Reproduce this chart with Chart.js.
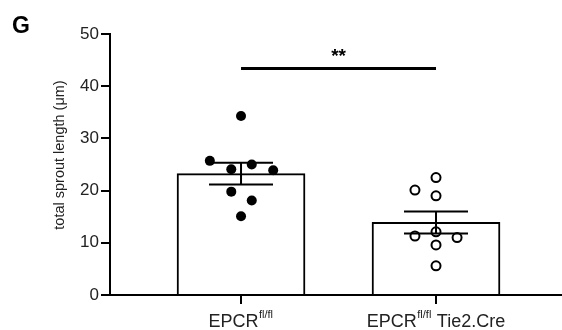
<!DOCTYPE html>
<html>
<head>
<meta charset="utf-8">
<script src="https://cdn.jsdelivr.net/npm/chart.js@4"></script>
<style>
  html, body { margin: 0; padding: 0; background: #fff; }
  canvas { display: block; }
</style>
</head>
<body>
<canvas id="sprout" width="562" height="330"></canvas>
<script>
// Sprout length per genotype: bar = mean, whiskers = SEM, dots = individual values
const groups = ['EPCR', 'EPCR'];
const groupSup = ['fl/fl', 'fl/fl'];
const groupSuffix = ['', ' Tie2.Cre'];
const means = [23.25, 13.9];
const sems = [2.1, 2.1];

const floxValues = [34.3, 25.7, 24.1, 25.0, 23.9, 19.8, 18.1, 15.1];
const floxJitter = [0, -0.16, -0.05, 0.055, 0.165, -0.05, 0.055, 0];
const creValues = [22.5, 20.1, 19.0, 11.3, 12.1, 11.0, 9.6, 5.6];
const creJitter = [0, -0.108, 0, -0.108, 0, 0.108, 0, 0];

const yTicks = [0, 10, 20, 30, 40, 50];
const yTitle = 'total sprout length (μm)';
const sigLabel = '**';
const sigLevel = 43.4;
const panelLetter = 'G';

const FONT = '"Liberation Sans", Arial, Helvetica, sans-serif';

function points(values, jitter, group) {
  return values.map((v, i) => ({ x: group + jitter[i], y: v }));
}

const extras = {
  id: 'extras',
  afterDatasetsDraw(chart) {
    const { ctx, scales: { x, y } } = chart;
    ctx.save();
    ctx.strokeStyle = '#000';
    ctx.lineWidth = 2;
    // SEM whiskers
    means.forEach((m, i) => {
      const px = x.getPixelForValue(i);
      const top = y.getPixelForValue(m + sems[i]);
      const bot = y.getPixelForValue(m - sems[i]);
      ctx.beginPath();
      ctx.moveTo(px, top); ctx.lineTo(px, bot);
      ctx.moveTo(px - 32, top); ctx.lineTo(px + 32, top);
      ctx.moveTo(px - 32, bot); ctx.lineTo(px + 32, bot);
      ctx.stroke();
    });
    // significance bar
    const sy = y.getPixelForValue(sigLevel);
    const x0 = x.getPixelForValue(0), x1 = x.getPixelForValue(1);
    ctx.lineWidth = 3;
    ctx.beginPath();
    ctx.moveTo(x0, sy); ctx.lineTo(x1, sy);
    ctx.stroke();
    ctx.fillStyle = '#000';
    ctx.font = 'bold 19px ' + FONT;
    ctx.textAlign = 'center';
    ctx.textBaseline = 'alphabetic';
    ctx.fillText(sigLabel, (x0 + x1) / 2, sy - 6);
    ctx.restore();
  },
  afterDraw(chart) {
    const { ctx, scales: { x } } = chart;
    ctx.save();
    ctx.fillStyle = '#222';
    ctx.textBaseline = 'alphabetic';
    ctx.textAlign = 'left';
    // category labels with superscript
    groups.forEach((g, i) => {
      const main = '18px ' + FONT, sup = '11px ' + FONT;
      ctx.font = main;
      const w1 = ctx.measureText(g).width;
      const w3 = ctx.measureText(groupSuffix[i]).width;
      ctx.font = sup;
      const w2 = ctx.measureText(groupSup[i]).width + 1;
      let left = x.getPixelForValue(i) - (w1 + w2 + w3) / 2;
      const base = 327;
      ctx.font = main;
      ctx.fillText(g, left, base);
      ctx.font = sup;
      ctx.fillText(groupSup[i], left + w1 + 0.5, base - 9);
      ctx.font = main;
      ctx.fillText(groupSuffix[i], left + w1 + w2, base);
    });
    // y title
    ctx.font = '14.5px ' + FONT;
    ctx.textAlign = 'center';
    ctx.textBaseline = 'middle';
    ctx.translate(60, 155);
    ctx.rotate(-Math.PI / 2);
    ctx.fillText(yTitle, 0, 0);
    ctx.restore();
    // panel letter
    ctx.save();
    ctx.fillStyle = '#000';
    ctx.font = 'bold 23px ' + FONT;
    ctx.fillText(panelLetter, 12, 33);
    ctx.restore();
  }
};

new Chart(document.getElementById('sprout').getContext('2d'), {
  data: {
    datasets: [
      {
        type: 'scatter',
        data: points(floxValues, floxJitter, 0),
        pointRadius: 5,
        pointBackgroundColor: '#000',
        pointBorderColor: '#000',
        pointBorderWidth: 0,
        order: 1
      },
      {
        type: 'scatter',
        data: points(creValues, creJitter, 1),
        pointRadius: 4.5,
        pointBackgroundColor: '#fff',
        pointBorderColor: '#000',
        pointBorderWidth: 2,
        order: 1
      },
      {
        type: 'bar',
        data: means.map((m, i) => ({ x: i, y: m })),
        barThickness: 128,
        backgroundColor: '#fff',
        borderColor: '#000',
        borderWidth: 2,
        order: 2
      }
    ]
  },
  options: {
    responsive: false,
    animation: false,
    layout: { autoPadding: false, padding: { top: 34, right: 1, left: 0, bottom: 0 } },
    plugins: { legend: { display: false }, tooltip: { enabled: false } },
    scales: {
      x: {
        type: 'linear',
        offset: false,
        min: -0.672,
        max: 1.641,
        afterBuildTicks: (s) => { s.ticks = [{ value: 0 }, { value: 1 }]; },
        afterFit: (s) => { s.height = 35; },
        ticks: { display: false },
        grid: { offset: false, drawOnChartArea: false, drawTicks: true, tickLength: 9, color: '#000', lineWidth: 2 },
        border: { display: true, color: '#000', width: 2 }
      },
      y: {
        min: 0,
        max: 50,
        afterBuildTicks: (s) => { s.ticks = yTicks.map(v => ({ value: v })); },
        afterFit: (s) => { s.width = 110; },
        ticks: { color: '#222', font: { family: FONT, size: 17 }, padding: 2 },
        grid: { drawOnChartArea: false, drawTicks: true, tickLength: 9, color: '#000', lineWidth: 2 },
        border: { display: true, color: '#000', width: 2 }
      }
    }
  },
  plugins: [extras]
});
</script>
</body>
</html>
